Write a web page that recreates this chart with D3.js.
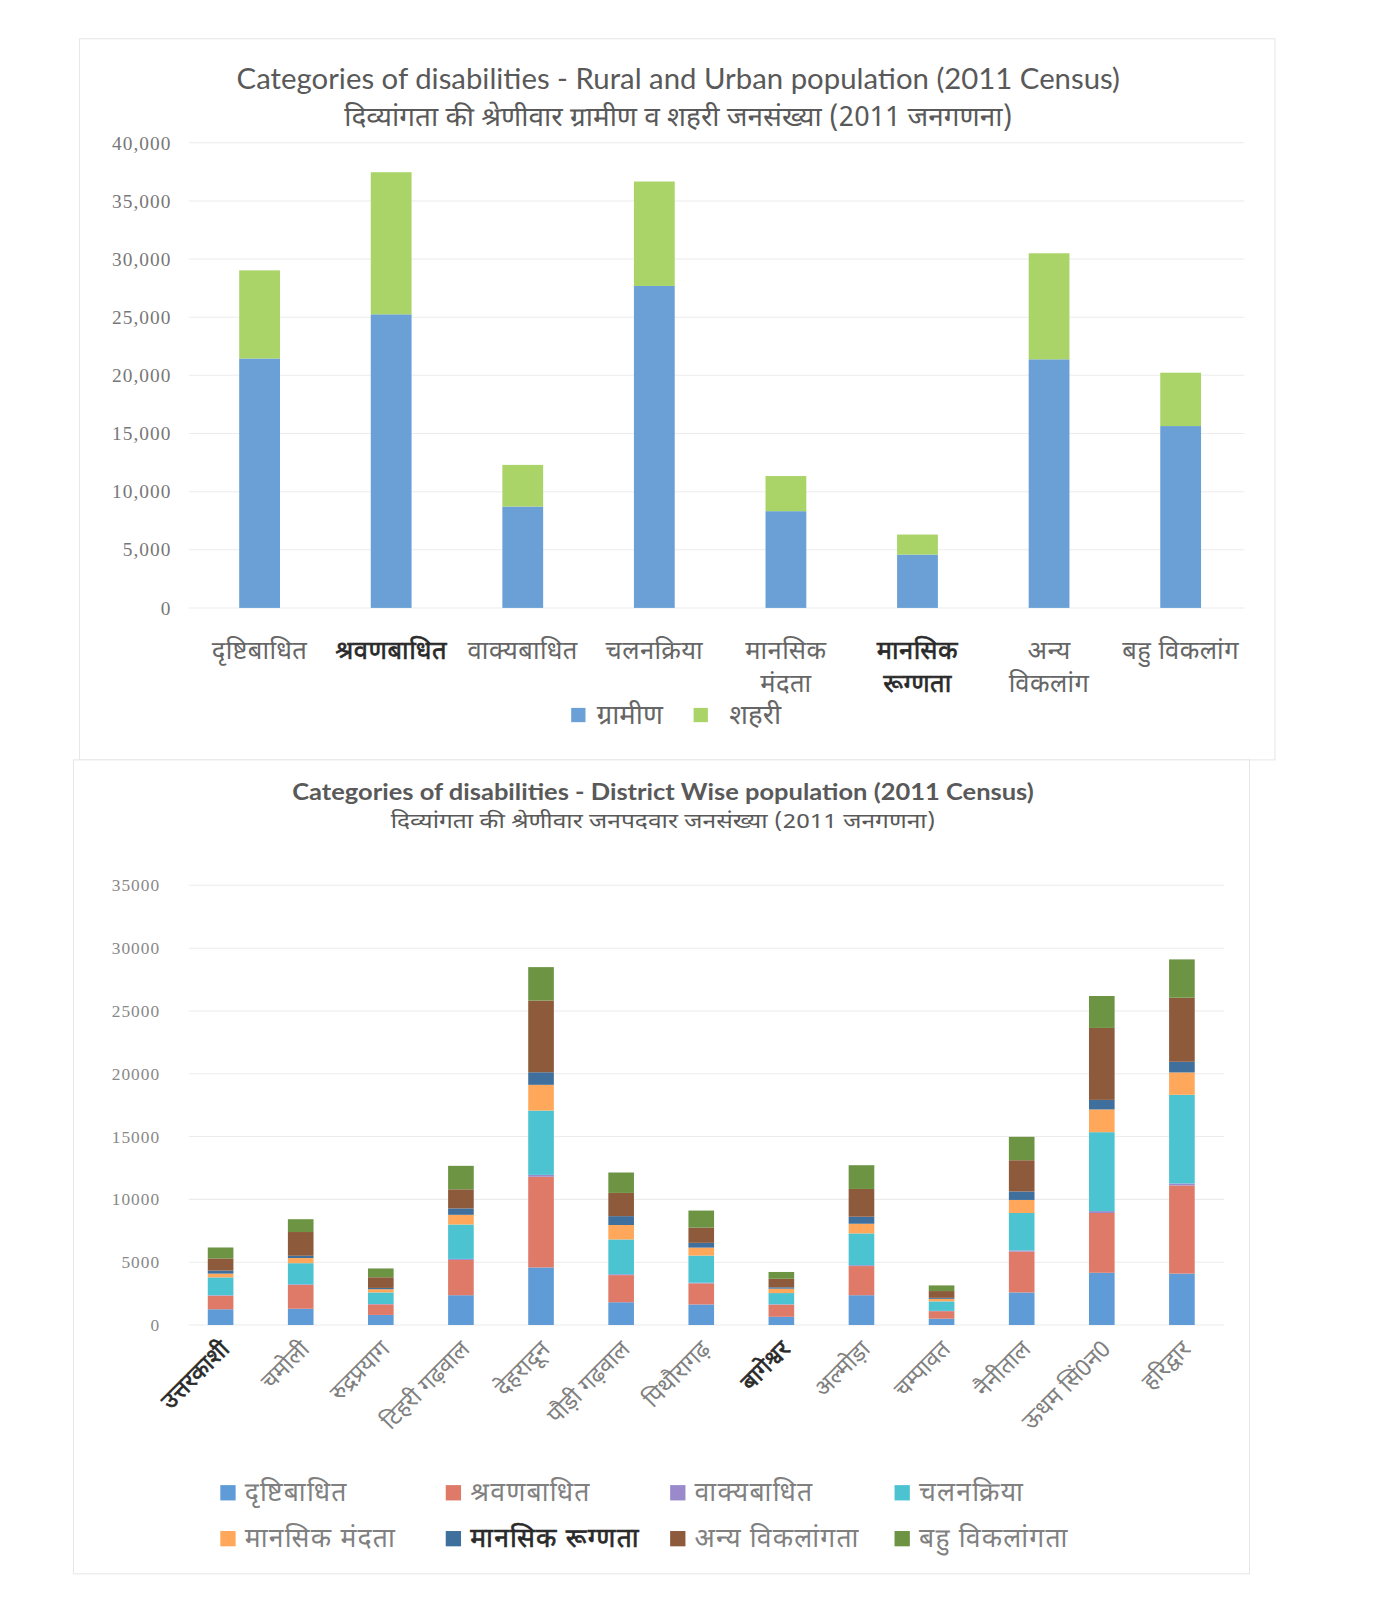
<!DOCTYPE html>
<html lang="hi">
<head>
<meta charset="UTF-8">
<title>Categories of disabilities</title>
<style>
  body { margin: 0; background: #fff; }
  .deva { font-family: "Noto Sans Devanagari", "Lohit Devanagari", "Mangal", "Noto Sans", sans-serif; }
  .num { font-family: "Liberation Serif", "DejaVu Serif", serif; }
  .eng { font-family: "Lato", "Open Sans", sans-serif; }
  .dark { fill: #2a2a2a; stroke: #2a2a2a; stroke-width: 0.6px; }
</style>
</head>
<body>
<div class="chart"></div>
<script src="https://d3js.org/d3.v7.min.js"></script>
<script>
// ---- top chart data (rural / urban) ----
var typeLabels = [["दृष्टिबाधित"], ["श्रवणबाधित"], ["वाक्यबाधित"], ["चलनक्रिया"],
                  ["मानसिक", "मंदता"], ["मानसिक", "रूग्णता"], ["अन्य", "विकलांग"], ["बहु विकलांग"]];
var rural = [21450, 25250, 8720, 27690, 8320, 4590, 21380, 15640];
var urban = [7580, 12220, 3580, 8980, 3020, 1720, 9120, 4590];
var topTicks = [0, 5000, 10000, 15000, 20000, 25000, 30000, 35000, 40000];

// ---- bottom chart data (district wise) ----
var districts = ["उत्तरकाशी", "चमोली", "रुद्रप्रयाग", "टिहरी गढ़वाल", "देहरादून", "पौड़ी गढ़वाल",
                 "पिथौरागढ़", "बागेश्वर", "अल्मोड़ा", "चम्पावत", "नैनीताल", "ऊधम सिं0न0", "हरिद्वार"];
var seriesNames = ["दृष्टिबाधित", "श्रवणबाधित", "वाक्यबाधित", "चलनक्रिया",
                   "मानसिक मंदता", "मानसिक रूग्णता", "अन्य विकलांगता", "बहु विकलांगता"];
var drishti  = [1250, 1290, 800, 2370, 4580, 1810, 1635, 650, 2370, 500, 2590, 4155, 4090];
var shravan  = [1080, 1900, 840, 2810, 7220, 2160, 1680, 970, 2320, 600, 3255, 4760, 7015];
var vakya    = [40, 50, 30, 80, 150, 70, 50, 30, 70, 20, 90, 150, 160];
var chalan   = [1420, 1680, 920, 2740, 5120, 2770, 2160, 890, 2530, 760, 2980, 6285, 7060];
var mandata  = [300, 410, 260, 770, 2050, 1150, 635, 350, 770, 200, 1040, 1810, 1780];
var rugnata  = [240, 180, 100, 510, 1000, 705, 380, 110, 560, 80, 675, 760, 850];
var anya     = [970, 1890, 850, 1520, 5710, 1850, 1220, 680, 2210, 540, 2485, 5730, 5100];
var bahu     = [870, 1020, 700, 1870, 2660, 1625, 1350, 540, 1890, 450, 1865, 2540, 3050];
var bottomTicks = [0, 5000, 10000, 15000, 20000, 25000, 30000, 35000];

var w = 1383, h = 1600;
var svg = d3.select(".chart").append("svg").attr("width", w).attr("height", h);
// whole page drawn a touch larger, like the scan
var page = svg.append("g").attr("transform", "scale(1.02)");

// panel frames
page.append("rect").attr("x", 78).attr("y", 38).attr("width", 1172).attr("height", 707)
    .attr("fill", "#fff").attr("stroke", "#e6e6e6");
page.append("rect").attr("x", 72).attr("y", 745).attr("width", 1153).attr("height", 798)
    .attr("fill", "#fff").attr("stroke", "#e6e6e6");

// ================= TOP CHART =================
page.append("text").attr("class", "eng").attr("x", 665).attr("y", 87)
    .attr("text-anchor", "middle").attr("font-size", 28).attr("fill", "#595959")
    .attr("textLength", 866).attr("lengthAdjust", "spacingAndGlyphs")
    .text("Categories of disabilities - Rural and Urban population  (2011 Census)");
page.append("text").attr("class", "deva").attr("x", 665).attr("y", 124)
    .attr("text-anchor", "middle").attr("font-size", 26).attr("fill", "#595959")
    .attr("textLength", 655).attr("lengthAdjust", "spacingAndGlyphs")
    .text("दिव्यांगता की श्रेणीवार ग्रामीण व शहरी जनसंख्या (2011 जनगणना)");

var x1 = d3.scaleBand().domain(d3.range(typeLabels.length)).range([190, 1222])
    .paddingInner(0.69).paddingOuter(0.345);
var y1 = d3.scaleLinear().domain([0, 40000]).range([596, 140]);

var g1 = page.append("g");
g1.selectAll("line.grid").data(topTicks).enter().append("line")
    .attr("x1", 185).attr("x2", 1220)
    .attr("y1", function(d) { return y1(d); }).attr("y2", function(d) { return y1(d); })
    .attr("stroke", "#ececec");

var ax1 = g1.append("g").attr("transform", "translate(168,0)")
    .call(d3.axisLeft(y1).tickValues(topTicks).tickSize(0).tickPadding(0).tickFormat(d3.format(",")));
ax1.select(".domain").remove();
ax1.selectAll("text").attr("class", "num").attr("font-size", 19).attr("letter-spacing", 1).attr("fill", "#777");

var topStack = d3.stack().keys([0, 1])
    .value(function(d, k) { return k === 0 ? rural[d] : urban[d]; })(d3.range(rural.length));
var topColors = ["#6aa0d6", "#aad468"];

g1.selectAll("g.layer").data(topStack).enter().append("g")
    .attr("fill", function(d, i) { return topColors[i]; })
    .selectAll("rect").data(function(d) { return d; }).enter().append("rect")
    .attr("x", function(d) { return x1(d.data); })
    .attr("width", x1.bandwidth())
    .attr("y", function(d) { return y1(d[1]); })
    .attr("height", function(d) { return y1(d[0]) - y1(d[1]); });

var xl1 = g1.selectAll("text.xl").data(typeLabels).enter().append("text")
    .attr("class", function(d, i) { return (i === 1 || i === 5) ? "deva dark" : "deva"; })
    .attr("text-anchor", "middle").attr("font-size", 25).attr("letter-spacing", 0.5)
    .attr("fill", "#666")
    .attr("x", function(d, i) { return x1(i) + x1.bandwidth() / 2; })
    .attr("y", 646);
xl1.selectAll("tspan").data(function(d) { return d; }).enter().append("tspan")
    .attr("x", function() { return d3.select(this.parentNode).attr("x"); })
    .attr("dy", function(d, i) { return i === 0 ? 0 : 32; })
    .text(function(d) { return d; });

// legend top
var leg1 = [["ग्रामीण", 560], ["शहरी", 680]];
leg1.forEach(function(l, i) {
  page.append("rect").attr("x", l[1]).attr("y", 694).attr("width", 14).attr("height", 14).attr("fill", topColors[i]);
  page.append("text").attr("class", "deva").attr("x", l[1] + (i === 0 ? 25 : 35)).attr("y", 710)
      .attr("font-size", 27).attr("fill", "#666").text(l[0]);
});

// ================= BOTTOM CHART =================
page.append("text").attr("class", "eng").attr("x", 650).attr("y", 784)
    .attr("text-anchor", "middle").attr("font-size", 22).attr("font-weight", "bold").attr("fill", "#595959")
    .attr("textLength", 727).attr("lengthAdjust", "spacingAndGlyphs")
    .text("Categories of disabilities - District Wise population (2011 Census)");
page.append("text").attr("class", "deva").attr("x", 650).attr("y", 812)
    .attr("text-anchor", "middle").attr("font-size", 20).attr("fill", "#595959")
    .attr("textLength", 534).attr("lengthAdjust", "spacingAndGlyphs")
    .text("दिव्यांगता की श्रेणीवार जनपदवार जनसंख्या (2011 जनगणना)");

var x2 = d3.scaleBand().domain(d3.range(districts.length)).range([177, 1198])
    .paddingInner(0.68).paddingOuter(0.34);
var y2 = d3.scaleLinear().domain([0, 35000]).range([1299, 868]);

var g2 = page.append("g");
g2.selectAll("line.grid").data(bottomTicks).enter().append("line")
    .attr("x1", 185).attr("x2", 1200)
    .attr("y1", function(d) { return y2(d); }).attr("y2", function(d) { return y2(d); })
    .attr("stroke", "#ececec");

var ax2 = g2.append("g").attr("transform", "translate(157,0)")
    .call(d3.axisLeft(y2).tickValues(bottomTicks).tickSize(0).tickPadding(0).tickFormat(d3.format("d")));
ax2.select(".domain").remove();
ax2.selectAll("text").attr("class", "num").attr("font-size", 17).attr("letter-spacing", 1).attr("fill", "#888");

var seriesVals = [drishti, shravan, vakya, chalan, mandata, rugnata, anya, bahu];
var seriesColors = ["#5f9bd6", "#df7a68", "#9a8acb", "#4cc3d1", "#ffa85c", "#3f6f9c", "#8e5a3c", "#6c9443"];

var botStack = d3.stack().keys(d3.range(seriesVals.length))
    .value(function(d, k) { return seriesVals[k][d]; })(d3.range(districts.length));

g2.selectAll("g.layer").data(botStack).enter().append("g")
    .attr("fill", function(d, i) { return seriesColors[i]; })
    .selectAll("rect").data(function(d) { return d; }).enter().append("rect")
    .attr("x", function(d) { return x2(d.data); })
    .attr("width", x2.bandwidth())
    .attr("y", function(d) { return y2(d[1]); })
    .attr("height", function(d) { return y2(d[0]) - y2(d[1]); });

g2.selectAll("text.xl").data(districts).enter().append("text")
    .attr("class", function(d, i) { return (i === 0 || i === 7) ? "deva dark" : "deva"; })
    .attr("text-anchor", "end").attr("font-size", 23)
    .attr("fill", "#808080")
    .attr("transform", function(d, i) {
      return "translate(" + (x2(i) + x2.bandwidth() / 2 + 10) + ",1324) rotate(-45)";
    })
    .text(function(d) { return d; });

// legend bottom
var legX = [216, 437, 657, 877];
seriesNames.forEach(function(n, i) {
  var lx = legX[i % 4], ly = i < 4 ? 1456 : 1501;
  page.append("rect").attr("x", lx).attr("y", ly).attr("width", 15).attr("height", 15).attr("fill", seriesColors[i]);
  page.append("text").attr("class", i === 5 ? "deva dark" : "deva")
      .attr("x", lx + 24).attr("y", ly + 16)
      .attr("font-size", 26).attr("letter-spacing", 1.2)
      .attr("fill", "#808080")
      .text(n);
});
</script>
</body>
</html>
